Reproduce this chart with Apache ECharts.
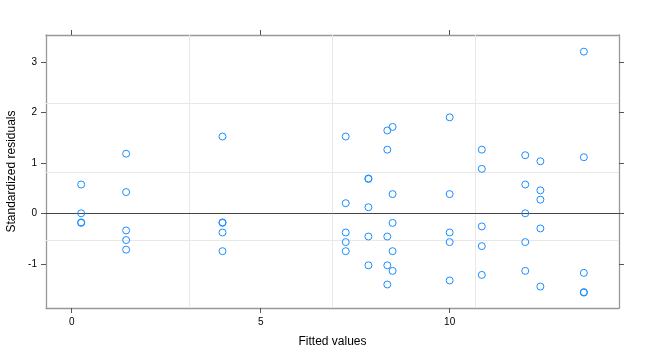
<!DOCTYPE html>
<html>
<head>
<meta charset="utf-8">
<script src="https://cdn.jsdelivr.net/npm/echarts@6/dist/echarts.min.js"></script>
<style>html,body{margin:0;padding:0;background:#fff}#c{width:648px;height:360px}</style>
</head>
<body>
<div id="c"></div>
<script>
var fittedLevels = [0.25, 1.44, 3.99, 7.25, 7.85, 8.35, 8.49, 10.0, 10.85, 12.0, 12.4, 13.55];
var residualsByLevel = [
  [0.57, 0, -0.18, -0.19],
  [1.18, 0.42, -0.34, -0.53, -0.72],
  [1.52, -0.19, -0.18, -0.38, -0.75],
  [1.52, 0.2, -0.38, -0.57, -0.75],
  [0.69, 0.68, 0.12, -0.46, -1.03],
  [1.64, 1.26, -0.46, -1.03, -1.41],
  [1.71, 0.38, -0.19, -0.75, -1.14],
  [1.90, 0.38, -0.38, -0.57, -1.33],
  [1.26, 0.88, -0.26, -0.65, -1.22],
  [1.15, 0.57, 0, -0.57, -1.14],
  [1.03, 0.455, 0.27, -0.30, -1.45],
  [3.2, 1.11, -1.18, -1.56, -1.57]
];
var xTicks = [0, 5, 10];
var yTicks = [-1, 0, 1, 2, 3];
var refLinesX = [3.11, 6.90, 10.68];
var refLinesY = [2.18, 0.824, -0.535];
var zeroLine = 0;

var points = [];
fittedLevels.forEach(function (f, i) {
  residualsByLevel[i].forEach(function (r) { points.push([f, r]); });
});

var X_MIN = -0.68, X_MAX = 14.48, Y_MIN = -1.875, Y_MAX = 3.53;
var lineCol = '#999999', tickCol = '#555555';
function xAx(pos, show) {
  return {
    type: 'value', position: pos, min: X_MIN, max: X_MAX,
    name: show ? 'Fitted values' : '', nameLocation: 'middle', nameGap: 28,
    nameTextStyle: { fontSize: 12, color: '#000', fontFamily: 'Liberation Sans' },
    axisLine: { show: true, onZero: false, lineStyle: { color: lineCol, width: 1.3 } },
    axisTick: { show: true, inside: false, length: 5, customValues: xTicks, lineStyle: { color: tickCol } },
    axisLabel: { show: show, customValues: xTicks, margin: 9, fontSize: 10, color: '#000', fontFamily: 'Liberation Sans' },
    splitLine: { show: false }
  };
}
function yAx(pos, show) {
  return {
    type: 'value', position: pos, min: Y_MIN, max: Y_MAX,
    name: show ? 'Standardized residuals' : '', nameLocation: 'middle', nameGap: 27,
    nameTextStyle: { fontSize: 12, color: '#000', fontFamily: 'Liberation Sans' },
    axisLine: { show: true, onZero: false, lineStyle: { color: lineCol, width: 1.3 } },
    axisTick: { show: true, inside: false, length: 5, customValues: yTicks, lineStyle: { color: tickCol } },
    axisLabel: { show: show, customValues: yTicks, margin: 9, fontSize: 10, color: '#000', fontFamily: 'Liberation Sans' },
    splitLine: { show: false }
  };
}

var chart = echarts.init(document.getElementById('c'), null, { renderer: 'canvas' });
var refData = refLinesX.map(function (v) { return { xAxis: v }; })
  .concat(refLinesY.map(function (v) { return { yAxis: v }; }));
chart.setOption({
  animation: false,
  grid: { left: 46, right: 29, top: 35, bottom: 52, outerBoundsMode: 'none', containLabel: false },
  xAxis: [xAx('bottom', true), xAx('top', false)],
  yAxis: [yAx('left', true), yAx('right', false)],
  series: [
    {
      type: 'line', data: [], silent: true,
      markLine: { silent: true, symbol: 'none', label: { show: false },
        lineStyle: { color: '#e8e8e8', width: 1, type: 'solid' }, data: refData }
    },
    {
      type: 'line', data: [], silent: true,
      markLine: { silent: true, symbol: 'none', label: { show: false },
        lineStyle: { color: '#444444', width: 1, type: 'solid' }, data: [{ yAxis: zeroLine }] }
    },
    {
      type: 'scatter', data: points, symbol: 'circle', symbolSize: 7,
      itemStyle: { color: 'rgba(255,255,255,0)', borderColor: '#1a8cff', borderWidth: 1, opacity: 1 },
      z: 5
    }
  ]
});
</script>
</body>
</html>
